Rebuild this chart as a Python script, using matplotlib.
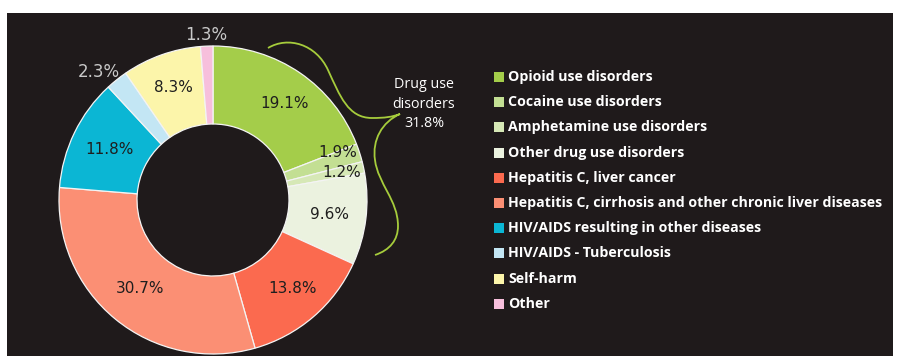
import numpy as np
import matplotlib
matplotlib.use("Agg")
import matplotlib.pyplot as plt
from matplotlib.patches import Rectangle, PathPatch
from matplotlib.path import Path

# Share of deaths attributable to drug use, by cause (%)
categories = [
    "Opioid use disorders",
    "Cocaine use disorders",
    "Amphetamine use disorders",
    "Other drug use disorders",
    "Hepatitis C, liver cancer",
    "Hepatitis C, cirrhosis and other chronic liver diseases",
    "HIV/AIDS resulting in other diseases",
    "HIV/AIDS - Tuberculosis",
    "Self-harm",
    "Other",
]
values = [19.1, 1.9, 1.2, 9.6, 13.8, 30.7, 11.8, 2.3, 8.3, 1.3]
colors = ["#a4cd4a", "#c3df93", "#d6e8b6", "#ebf2df", "#fb6a4f",
          "#fb8f74", "#0bb6d4", "#c3e6f4", "#fcf5aa", "#f7bfdc"]
drug_group = categories[:4]
drug_label = "Drug use\ndisorders\n{:.1f}%"

# label placement (pixels from centre, angle nudge in degrees)
label_radius = [120, 133, 132, 117, 119, 115, 115, 172, 119, 165]
label_nudge = [-2, 3, 0, 0, 1, 0, 0, 3, 0, 0]
label_outside = [False] * 7 + [True, False, True]

W, H = 907, 356
BG = "#1f1a1b"
fig = plt.figure(figsize=(W / 100, H / 100), dpi=100, facecolor="white")
ax = fig.add_axes([0, 0, 1, 1])
ax.set_facecolor("white")

# dark panel
ax.add_patch(Rectangle((7, 0), 886, 343, facecolor=BG, edgecolor="none", zorder=0))

cx, cy = 213, 156
R, ring = 154, 78
wedges, _ = ax.pie(values, colors=colors, startangle=90, counterclock=False,
                   center=(cx, cy), radius=R,
                   wedgeprops=dict(width=ring, edgecolor="#f4f4f4", linewidth=0.9))
for w in wedges:
    w.set_zorder(2)

ax.set_xlim(0, W)
ax.set_ylim(0, H)
ax.set_aspect("equal")
ax.axis("off")

pct_font = ["DejaVu Sans"]
out_font = ["Liberation Sans Narrow", "DejaVu Sans"]
for w, v, r, nd, outside in zip(wedges, values, label_radius, label_nudge, label_outside):
    a = np.deg2rad((w.theta1 + w.theta2) / 2 + nd)
    x, y = cx + r * np.cos(a), cy + r * np.sin(a)
    if outside:
        ax.text(x, y, f"{v:.1f}%", ha="center", va="center", fontsize=12,
                color="#c9c9c9", family=out_font, zorder=3)
    else:
        ax.text(x, y, f"{v:.1f}%", ha="center", va="center", fontsize=11,
                color="#1e1e1e", family=pct_font, zorder=3)

# curly brace around the drug-use slices
verts = [
    (268, 48),
    (288, 36), (316, 44), (328, 70),
    (340, 96), (348, 118), (372, 118),
    (385, 118), (392, 117), (400, 114),
    (382, 122), (372, 140), (375, 160),
    (378, 184), (398, 200), (398, 226),
    (398, 240), (390, 250), (375, 255),
]
codes = [Path.MOVETO] + [Path.CURVE4] * 18
verts = [(x, H - y) for x, y in verts]
ax.add_patch(PathPatch(Path(verts, codes), facecolor="none", edgecolor="#a6cc3c",
                       linewidth=1.3, zorder=3))

drug_total = sum(v for c, v in zip(categories, values) if c in drug_group)
ax.text(424, H - 104, drug_label.format(drug_total), ha="center", va="center",
        fontsize=10.3, color="white", family=["Open Sans"], linespacing=1.45, zorder=3)

# legend
row0, step = 77, 25.2
for i, (c, col) in enumerate(zip(categories, colors)):
    yy = H - (row0 + i * step)
    ax.add_patch(Rectangle((494, yy - 5), 10, 10, facecolor=col, edgecolor="none", zorder=3))
    ax.text(508, yy, c, ha="left", va="center", fontsize=10.2, fontweight="bold",
            color="white", family=["Open Sans"], zorder=3)

fig.savefig("out.png", dpi=100, facecolor="white")
